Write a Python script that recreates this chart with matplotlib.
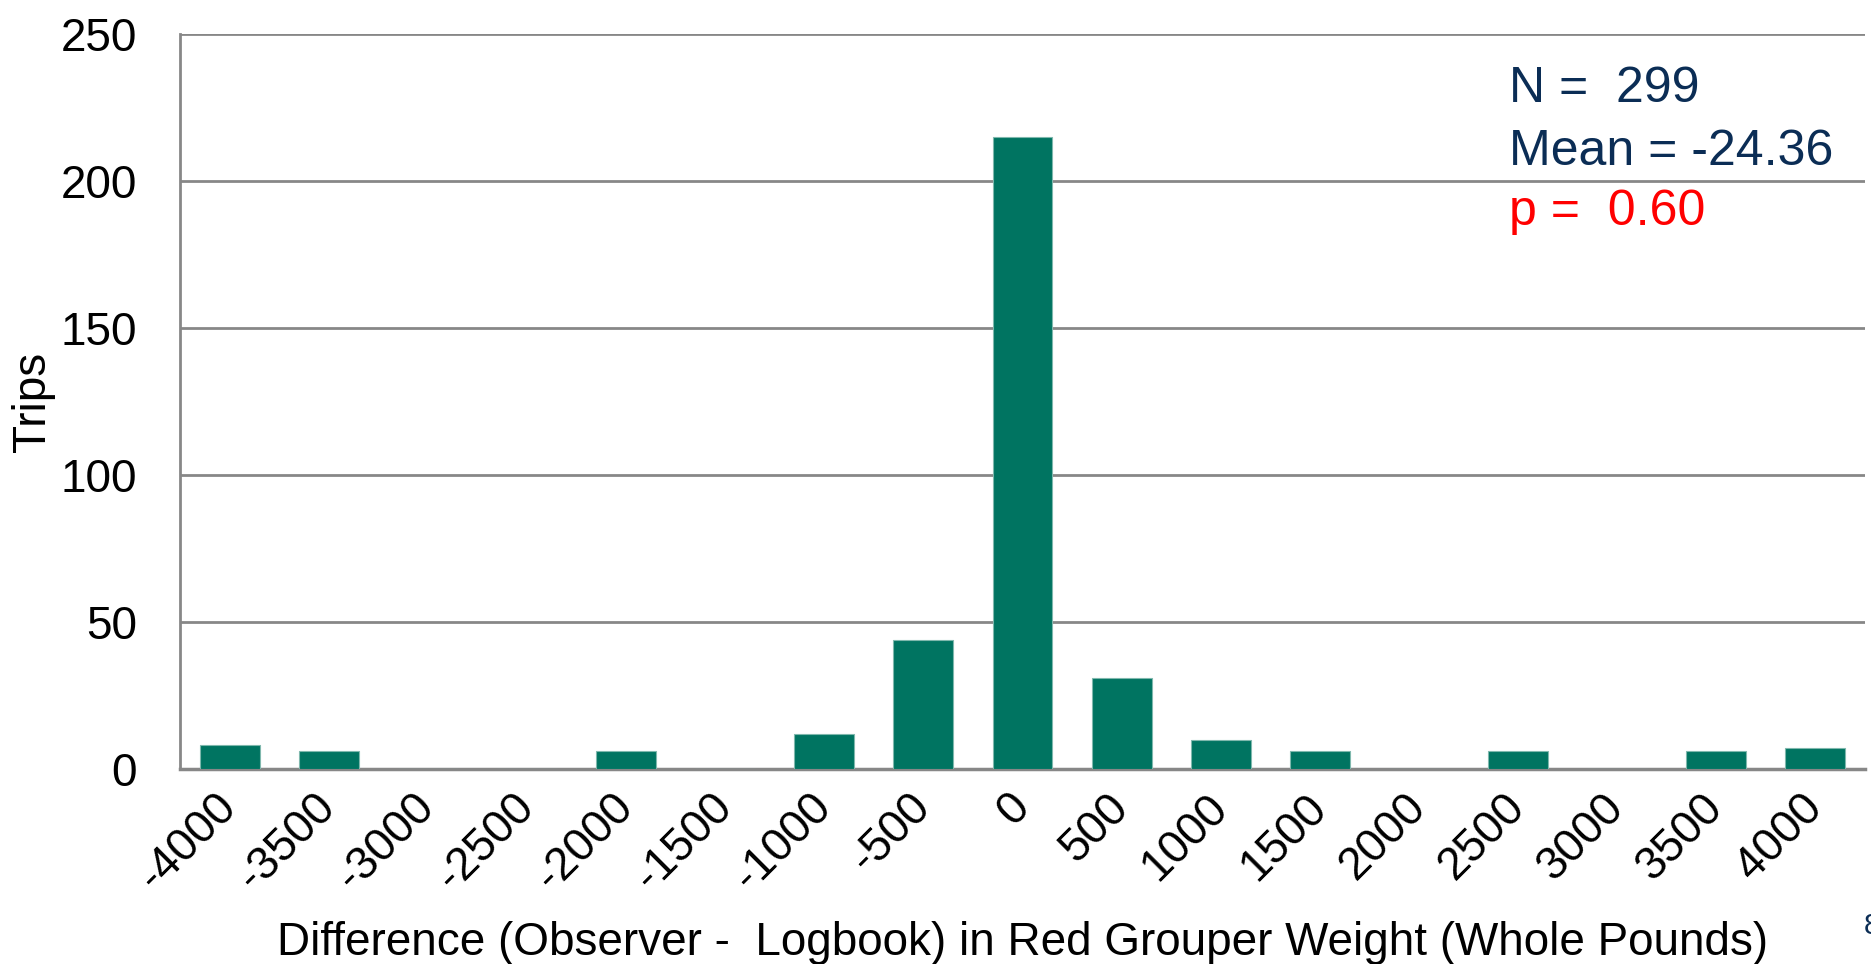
import matplotlib
matplotlib.use("Agg")
import matplotlib.pyplot as plt

plt.rcParams['font.family'] = ['Liberation Sans', 'DejaVu Sans']

categories = ["-4000", "-3500", "-3000", "-2500", "-2000", "-1500", "-1000", "-500",
              "0", "500", "1000", "1500", "2000", "2500", "3000", "3500", "4000"]
trips = [8, 6, 0, 0, 6, 0, 12, 44, 215, 31, 10, 6, 0, 6, 0, 6, 7]
yticks = [0, 50, 100, 150, 200, 250]

stats_n = "N =  299"
stats_mean = "Mean = -24.36"
stats_p = "p =  0.60"

W, H = 1871, 964
fig = plt.figure(figsize=(W / 100, H / 100), dpi=100)
ax = fig.add_axes([180 / W, 1 - 769 / H, (1865 - 180) / W, (769 - 34) / H])

x = list(range(len(categories)))
ax.bar(x, trips, width=0.605, color="#007461", edgecolor="#7fb8ad", linewidth=0.8, zorder=3)

ax.set_xlim(-0.5, len(categories) - 0.5)
ax.set_ylim(0, 250)
ax.set_yticks(yticks)
ax.set_xticks(x)
ax.set_xticklabels(categories, rotation=45, ha="right", va="center", rotation_mode="anchor")

ax.grid(axis="y", color="#878787", linewidth=2.0, zorder=0)
ax.set_axisbelow(True)
for s in ["top", "right"]:
    ax.spines[s].set_visible(False)
ax.spines["left"].set_color("#878787")
ax.spines["left"].set_linewidth(2.0)
ax.spines["bottom"].set_color("#878787")
ax.spines["bottom"].set_linewidth(2.5)

ax.tick_params(axis="y", length=0, pad=31, labelsize=33)
ax.tick_params(axis="x", length=0, pad=23, labelsize=33)

ax.set_ylabel("Trips", fontsize=33)
ax.yaxis.set_label_coords(-125 / (1865 - 180), 0.5)
ax.set_xlabel("Difference (Observer -  Logbook) in Red Grouper Weight (Whole Pounds)", fontsize=33)
ax.xaxis.set_label_coords(0.5, -(955 - 769) / (769 - 34), transform=ax.transAxes)
ax.xaxis.label.set_va("baseline")

navy = "#0b2d55"
fig.text(1509 / W, 1 - 102 / H, stats_n, fontsize=36, color=navy, va="baseline", ha="left")
fig.text(1509 / W, 1 - 165 / H, stats_mean, fontsize=36, color=navy, va="baseline", ha="left")
fig.text(1509 / W, 1 - 225 / H, stats_p, fontsize=36, color="#ff0000", va="baseline", ha="left")

fig.text(1864 / W, 1 - 934 / H, "8", fontsize=21, color=navy, va="baseline", ha="left")

fig.savefig("out.png", dpi=100, facecolor="white")
